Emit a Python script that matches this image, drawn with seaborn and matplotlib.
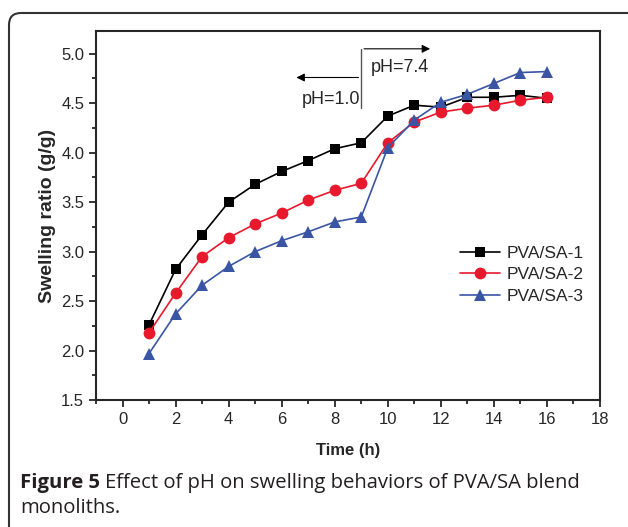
import pandas as pd
import numpy as np
import matplotlib
matplotlib.use("Agg")
import matplotlib.pyplot as plt
import seaborn as sns
from matplotlib.patches import FancyBboxPatch
from matplotlib.ticker import MultipleLocator

# data
time_h = [1, 2, 3, 4, 5, 6, 7, 8, 9, 10, 11, 12, 13, 14, 15, 16]
pva_sa_1 = [2.26, 2.82, 3.17, 3.50, 3.68, 3.81, 3.92, 4.04, 4.10, 4.37, 4.48, 4.46, 4.56, 4.56, 4.58, 4.55]
pva_sa_2 = [2.18, 2.58, 2.95, 3.14, 3.28, 3.39, 3.52, 3.62, 3.69, 4.10, 4.31, 4.41, 4.45, 4.48, 4.53, 4.56]
pva_sa_3 = [1.97, 2.37, 2.66, 2.85, 3.00, 3.11, 3.20, 3.30, 3.35, 4.05, 4.33, 4.51, 4.59, 4.70, 4.81, 4.82]
names = ["PVA/SA-1", "PVA/SA-2", "PVA/SA-3"]

df = pd.DataFrame({"Time (h)": time_h * 3,
                   "ratio": pva_sa_1 + pva_sa_2 + pva_sa_3,
                   "sample": np.repeat(names, len(time_h))})

sns.set_style("ticks")
plt.rcParams['font.family'] = ['Liberation Sans', 'DejaVu Sans']

fig = plt.figure(figsize=(6.28, 5.27), dpi=100)
ax = fig.add_axes([96 / 628, 1 - 400 / 527, 504 / 628, 369 / 527])

cols = {"PVA/SA-1": "#000000", "PVA/SA-2": "#e8192c", "PVA/SA-3": "#3a55a4"}
marks = {"PVA/SA-1": "s", "PVA/SA-2": "o", "PVA/SA-3": "^"}
sizes = {"PVA/SA-1": 7, "PVA/SA-2": 8.5, "PVA/SA-3": 9}
for n in names:
    sns.lineplot(data=df[df["sample"] == n], x="Time (h)", y="ratio", ax=ax,
                 color=cols[n], marker=marks[n], markersize=sizes[n],
                 markeredgewidth=0, linewidth=1.2, label=n)

ax.set_xlim(-1, 18)
ax.set_ylim(1.5, 5.23)
ax.xaxis.set_major_locator(MultipleLocator(2))
ax.xaxis.set_minor_locator(MultipleLocator(1))
ax.yaxis.set_minor_locator(MultipleLocator(0.25))
ax.set_yticks(np.arange(1.5, 5.01, 0.5))
ax.tick_params(which="both", direction="out", width=1.3, labelsize=12)
ax.tick_params(which="major", length=5)
ax.tick_params(which="minor", length=3)
for s in ax.spines.values():
    s.set_linewidth(1.5)
ax.set_xlabel("Time (h)", fontsize=12, fontweight="bold", labelpad=12)
ax.set_ylabel("Swelling ratio (g/g)", fontsize=14, fontweight="bold", labelpad=4)

ax.legend(loc="center left", bbox_to_anchor=(0.722, 0.339), frameon=False, fontsize=12.5,
          handlelength=2.3, handletextpad=0.4, labelspacing=0.35, borderaxespad=0, borderpad=0)

# pH annotation
ax.plot([9, 9], [4.45, 5.05], color="#555555", lw=1)
ax.annotate("", xy=(11.7, 5.05), xytext=(9, 5.05),
            arrowprops=dict(arrowstyle="-|>", color="black", lw=0.8, mutation_scale=12))
ax.annotate("", xy=(6.45, 4.76), xytext=(9, 4.76),
            arrowprops=dict(arrowstyle="-|>", color="black", lw=0.8, mutation_scale=12))
ax.text(9.35, 4.86, "pH=7.4", fontsize=13, va="center", ha="left")
ax.text(8.95, 4.54, "pH=1.0", fontsize=13, va="center", ha="right")

# caption
cap_y1 = 1 - 483 / 527
t1 = fig.text(20 / 628, cap_y1, "Figure 5", fontsize=14.6, va="center", ha="left",
              family="Open Sans", fontweight="bold", color="#231f20")
fig.canvas.draw()
bb = t1.get_window_extent()
fig.text((bb.x1 + 5) / 628, cap_y1, "Effect of pH on swelling behaviors of PVA/SA blend",
         fontsize=14.6, va="center", ha="left", family="Open Sans", color="#231f20")
fig.text(20 / 628, 1 - 508 / 527, "monoliths.", fontsize=14.6, va="center", ha="left",
         family="Open Sans", color="#231f20")

# rounded frame around the figure, running off the right and bottom edges
frame = FancyBboxPatch((9, -40), 680, 554, boxstyle="round,pad=0,rounding_size=12",
                       transform=None, fill=False, edgecolor="#333333", linewidth=1.5)
fig.patches.append(frame)

fig.savefig("out.png", dpi=100)
